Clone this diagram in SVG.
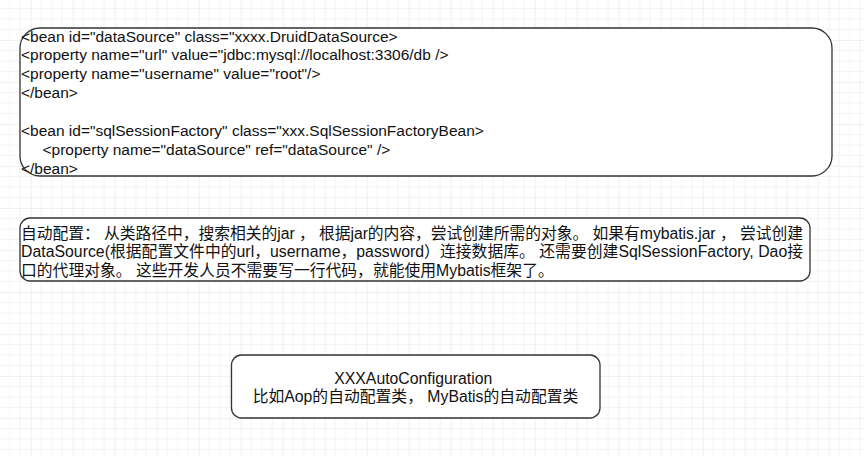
<svg xmlns="http://www.w3.org/2000/svg" width="864" height="456" viewBox="0 0 864 456">
  <defs>
    <pattern id="grid" patternUnits="userSpaceOnUse" x="30.7" y="40" width="42" height="42">
      <path d="M10.5 0V42M21 0V42M31.5 0V42M0 10.5H42M0 21H42M0 31.5H42" stroke="#f3f3f3" stroke-width="1" fill="none"/>
      <path d="M0 0V42M0 0H42" stroke="#e4e4e4" stroke-width="1" fill="none"/>
    </pattern>
    <style>
      .box { fill: #ffffff; stroke: #333333; stroke-width: 1.3; }
      .txt { font-family: "Liberation Sans", Arial, "Noto Sans CJK SC", sans-serif; font-size: 15.5px; fill: #111111; }
      .cjk { font-size: 15.8px; }
      .mid { text-anchor: middle; }
    </style>
  </defs>
  <rect x="0" y="0" width="864" height="456" fill="#ffffff"/>
  <rect x="0" y="0" width="864" height="456" fill="url(#grid)"/>

  <g id="connectors"></g>

  <g id="node-xml">
    <rect class="box" x="20" y="28" width="812" height="148" rx="20" ry="20"/>
    <text class="txt" xml:space="preserve">
      <tspan x="21" y="41.5">&lt;bean id="dataSource" class="xxxx.DruidDataSource&gt;</tspan>
      <tspan x="21" y="60.4">&lt;property name="url" value="jdbc:mysql://localhost:3306/db /&gt;</tspan>
      <tspan x="21" y="79.3">&lt;property name="username" value="root"/&gt;</tspan>
      <tspan x="21" y="98.2">&lt;/bean&gt;</tspan>
      <tspan x="21" y="136">&lt;bean id="sqlSessionFactory" class="xxx.SqlSessionFactoryBean&gt;</tspan>
      <tspan x="21" y="154.9">     &lt;property name="dataSource" ref="dataSource" /&gt;</tspan>
      <tspan x="21" y="173.8">&lt;/bean&gt;</tspan>
    </text>
  </g>

  <g id="node-autoconfig-desc">
    <rect class="box" x="20" y="218" width="790" height="63" rx="10" ry="10"/>
    <text class="txt cjk" xml:space="preserve">
      <tspan x="21" y="238.5" textLength="782" lengthAdjust="spacing">自动配置： 从类路径中，搜索相关的jar ， 根据jar的内容，尝试创建所需的对象。 如果有mybatis.jar ， 尝试创建</tspan>
      <tspan x="21" y="257.4" textLength="782" lengthAdjust="spacing">DataSource(根据配置文件中的url，username，password）连接数据库。 还需要创建SqlSessionFactory, Dao接</tspan>
      <tspan x="21" y="276.3">口的代理对象。 这些开发人员不需要写一行代码，就能使用Mybatis框架了。</tspan>
    </text>
  </g>

  <g id="node-xxx-autoconfiguration">
    <rect class="box" x="231.5" y="355" width="368.5" height="63" rx="10" ry="10"/>
    <text class="txt cjk mid">
      <tspan x="415.5" y="383.5">XXXAutoConfiguration</tspan>
      <tspan x="415.5" y="402.4">比如Aop的自动配置类， MyBatis的自动配置类</tspan>
    </text>
  </g>
</svg>
